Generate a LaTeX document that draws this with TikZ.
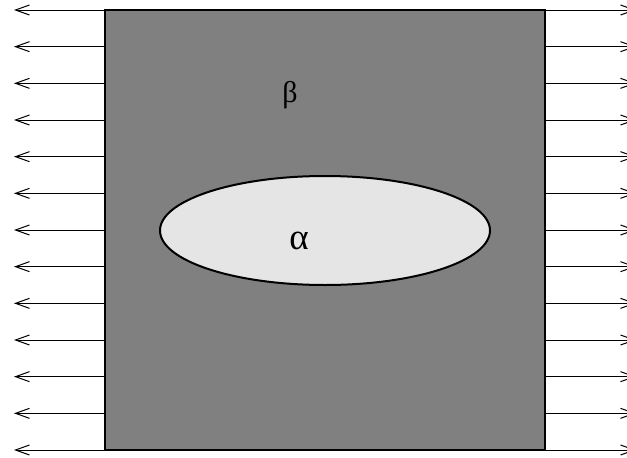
\documentclass[tikz,border=0pt]{standalone}
\usepackage{fontspec}
\setmainfont{Liberation Serif}
\usetikzlibrary{arrows.meta,shapes.geometric}
\begin{document}
\begin{tikzpicture}[x=1pt,y=-1pt,
  arr/.style={line width=1pt,-{Straight Barb[length=14pt,width=10pt,line width=1pt]}},
  phase/.style={draw=black,line width=2pt,inner sep=0pt},
  lbl/.style={inner sep=0pt,font=\fontsize{30}{32}\selectfont}]
\useasboundingbox (0,0) rectangle (627,458);
\clip (0,0) rectangle (627,458);
\coordinate (C) at (325,230);
\foreach \i in {0,...,12} {
  \pgfmathsetmacro\yy{10+\i*440/12}
  \coordinate (A\i) at (105,\yy);
  \coordinate (B\i) at (545,\yy);
  \coordinate (L\i) at (14,\yy);
  \coordinate (R\i) at (636,\yy);
  \draw[arr] (A\i) -- (L\i);
  \draw[arr] (B\i) -- (R\i);
}
\node[phase,rectangle,fill=gray,minimum width=440pt,minimum height=440pt] (sq) at (C) {};
\node[phase,ellipse,fill=black!10,minimum width=330pt,minimum height=109pt] (el) at (325,230.5) {};
\node[lbl] (beta) at (290,95) {β};
\node[lbl,font=\fontsize{37}{40}\selectfont] (alpha) at (299,241) {α};
\end{tikzpicture}
\end{document}
